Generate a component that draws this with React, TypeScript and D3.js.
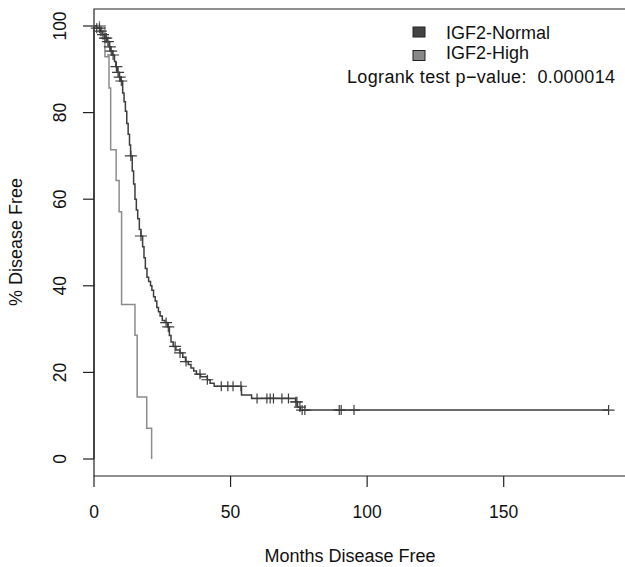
import React from "react";
import * as d3 from "d3";

// Kaplan-Meier step points: [months, % disease free after event]
const normalSteps: [number, number][] = [
  [0, 100], [1.0, 99.5], [2.5, 98.8], [3.0, 98.0], [4.0, 97.2], [4.8, 96.4], [5.5, 95.2],
  [6.0, 94.2], [6.7, 93.3], [7.5, 91.8], [8.0, 90.6], [8.6, 89.3], [9.2, 88.2], [9.8, 87.3],
  [10.5, 84.5], [11.0, 82.5], [11.5, 80.3], [12.0, 77.5], [12.5, 75.0], [13.0, 72.5],
  [13.4, 70.0], [14.0, 66.5], [14.5, 63.5], [15.0, 60.0], [15.5, 57.5], [16.0, 55.5],
  [16.6, 53.0], [17.2, 51.5], [17.8, 49.0], [18.3, 46.5], [18.8, 44.0], [19.4, 42.0],
  [20.0, 41.0], [20.7, 40.0], [21.2, 39.0], [21.8, 37.5], [22.4, 36.5], [23.0, 35.0],
  [23.6, 34.0], [24.2, 33.0], [25.0, 32.0], [26.0, 31.5], [27.0, 30.5], [27.6, 28.5],
  [28.2, 27.0], [29.0, 26.0], [30.0, 25.2], [31.5, 24.5], [32.5, 23.5], [33.5, 22.5],
  [34.5, 21.8], [35.5, 21.0], [36.5, 20.3], [37.5, 19.6], [39.0, 19.0], [41.5, 18.3],
  [42.5, 17.5], [44.0, 16.8], [54.0, 14.8], [57.7, 14.0], [73.8, 13.2], [74.5, 12.0],
  [75.5, 11.3],
];
const normalEnd = 188.4;
const normalCensored = [
  1.0, 2.0, 2.5, 3.3, 4.0, 4.5, 5.1, 5.8, 6.3, 7.0, 8.2, 8.8, 9.4, 10.0, 13.5, 17.2,
  26.4, 27.2, 29.7, 31.5, 33.7, 38.8, 41.5, 46.6, 49.0, 50.9, 53.8, 59.7, 63.3, 64.5,
  65.7, 68.8, 71.2, 73.9, 74.3, 75.4, 76.2, 77.2, 89.8, 90.5, 95.2, 188.4,
];

const highSteps: [number, number][] = [
  [0, 100], [4.0, 92.9], [5.5, 85.7], [6.1, 71.4], [8.1, 64.3], [9.2, 57.1],
  [10.1, 35.7], [15.0, 28.6], [15.8, 14.3], [19.3, 7.1], [21.1, 0],
];
const highEnd = 21.1;
const highCensored = [2.0];

const legendLabels = ["IGF2-Normal", "IGF2-High"];
const xTicks = [0, 50, 100, 150];
const yTicks = [0, 20, 40, 60, 80, 100];
const pText = "Logrank test p\u2212value:  0.000014";

const DARK = "#3d3d3d";
const LIGHT = "#8c8c8c";
const FONT = "'Liberation Sans', Arial, Helvetica, sans-serif";

export default function App() {
  const W = 625, H = 567;
  const x = d3.scaleLinear().domain([0, 150]).range([94, 503.7]);
  const y = d3.scaleLinear().domain([0, 100]).range([459, 26]);
  const box = { left: 94, top: 9, bottom: 476, right: 650 };

  const line = d3
    .line<[number, number]>()
    .x((d) => x(d[0]))
    .y((d) => y(d[1]))
    .curve(d3.curveStepAfter);

  const survAt = (steps: [number, number][], t: number) => {
    let s = steps[0][1];
    for (const [tt, v] of steps) if (tt <= t) s = v;
    return s;
  };

  const normalPts: [number, number][] = [...normalSteps, [normalEnd, normalSteps[normalSteps.length - 1][1]]];
  const highPts: [number, number][] = [...highSteps, [highEnd, highSteps[highSteps.length - 1][1]]];

  const cross = (cx: number, cy: number, color: string, key: string) => (
    <path key={key} d={`M${cx - 6},${cy}H${cx + 6}M${cx},${cy - 5}V${cy + 5}`} stroke={color} strokeWidth={1.2} fill="none" />
  );

  return (
    <svg width={W} height={H} style={{ position: "absolute", left: 0, top: 0, background: "#fff" }} fontFamily={FONT}>
      <rect x={0} y={0} width={W} height={H} fill="#fff" />
      {/* box */}
      <path d={`M${box.right},${box.top}H${box.left}V${box.bottom}H${box.right}`} stroke="#222" strokeWidth={1.2} fill="none" />
      {/* x axis */}
      {xTicks.map((t) => (
        <g key={"xt" + t}>
          <line x1={x(t)} x2={x(t)} y1={box.bottom} y2={box.bottom + 11} stroke="#222" strokeWidth={1.2} />
          <text x={x(t)} y={518} textAnchor="middle" fontSize={17.5} fill="#111">{t}</text>
        </g>
      ))}
      <text x={350} y={562} textAnchor="middle" fontSize={18} fill="#111">Months Disease Free</text>
      {/* y axis */}
      <line x1={box.left} x2={box.left} y1={y(0)} y2={y(100)} stroke="#222" strokeWidth={1.2} />
      {yTicks.map((t) => (
        <g key={"yt" + t}>
          <line x1={box.left - 11} x2={box.left} y1={y(t)} y2={y(t)} stroke="#222" strokeWidth={1.2} />
          <text transform={`translate(66,${y(t)}) rotate(-90)`} textAnchor="middle" fontSize={17.5} fill="#111">{t}</text>
        </g>
      ))}
      <text transform={`translate(22,242) rotate(-90)`} textAnchor="middle" fontSize={18} fill="#111">% Disease Free</text>

      {/* curves */}
      <path d={line(highPts) || ""} stroke={LIGHT} strokeWidth={1.5} fill="none" />
      {highCensored.map((t, i) => cross(x(t), y(survAt(highSteps, t)), LIGHT, "hc" + i))}
      <path d={line(normalPts) || ""} stroke={DARK} strokeWidth={1.5} fill="none" />
      {normalCensored.map((t, i) => cross(x(t), y(survAt(normalSteps, t)), DARK, "nc" + i))}

      {/* legend */}
      {legendLabels.map((lab, i) => (
        <g key={lab}>
          <rect x={413} y={27 + i * 23.5} width={12} height={10} fill={i === 0 ? "#444" : "#888"} stroke="#222" strokeWidth={1} />
          <text x={446} y={38.5 + i * 20} fontSize={18} fill="#111">{lab}</text>
        </g>
      ))}
      <text x={347} y={83.3} fontSize={18} fill="#111" style={{ whiteSpace: "pre" }} textLength={268} lengthAdjust="spacing">{pText}</text>
    </svg>
  );
}
